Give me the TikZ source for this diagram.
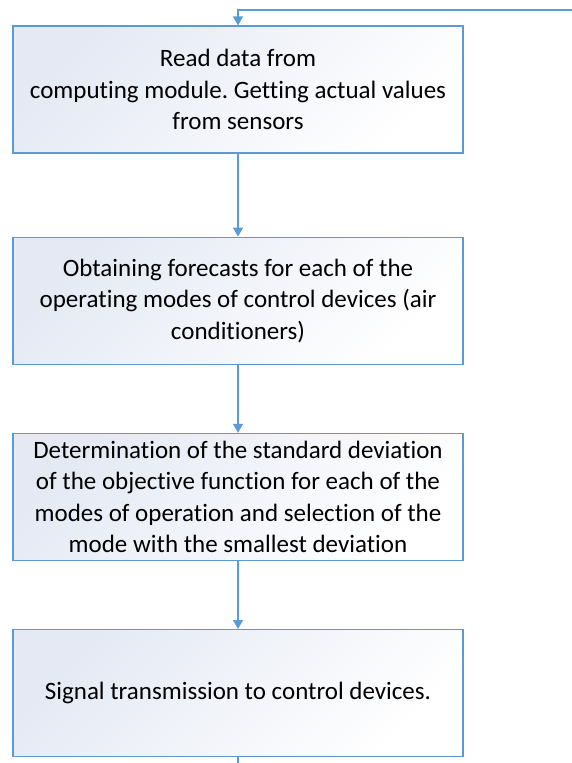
\documentclass[tikz,border=0pt]{standalone}
\usepackage{fontspec}
\setmainfont{Carlito}[Ligatures=NoCommon]
\frenchspacing
\usetikzlibrary{positioning,arrows.meta}
\definecolor{lineblue}{RGB}{91,155,213}
\definecolor{shadeblue}{RGB}{228,233,244}

\begin{document}
\begin{tikzpicture}[x=1pt,y=-1pt]
\tikzstyle{stepbox}=[rectangle,draw=lineblue,line width=1.2pt,minimum width=450pt,minimum height=127pt,inner sep=0pt,align=center,font=\fontsize{25}{31.5}\selectfont,top color=shadeblue,bottom color=white,shading angle=45]
\tikzstyle{flow}=[draw=lineblue,line width=1.2pt,-{Triangle[width=10pt,length=9pt]}]
\useasboundingbox (0,0) rectangle (572,763);
\node[stepbox] (read) at (238,89.5) {Read data from\\computing module. Getting actual values\\from sensors};
\node[stepbox,below=83pt of read] (forecast) {Obtaining forecasts for each of the\\operating modes of control devices (air\\conditioners)};
\node[stepbox,below=68pt of forecast] (deviation) {Determination of the standard deviation\\of the objective function for each of the\\modes of operation and selection of the\\mode with the smallest deviation};
\node[stepbox,below=68pt of deviation] (signal) {Signal transmission to control devices.};
\coordinate (loop) at (572,10);
\coordinate (exit) at (238,763);
% flow between the steps
\draw[flow] (loop) -| (read);
\draw[flow] (read) -- (forecast);
\draw[flow] (forecast) -- (deviation);
\draw[flow] (deviation) -- (signal);
\draw[draw=lineblue,line width=1.2pt] (signal) -- (exit);
\end{tikzpicture}
\end{document}
